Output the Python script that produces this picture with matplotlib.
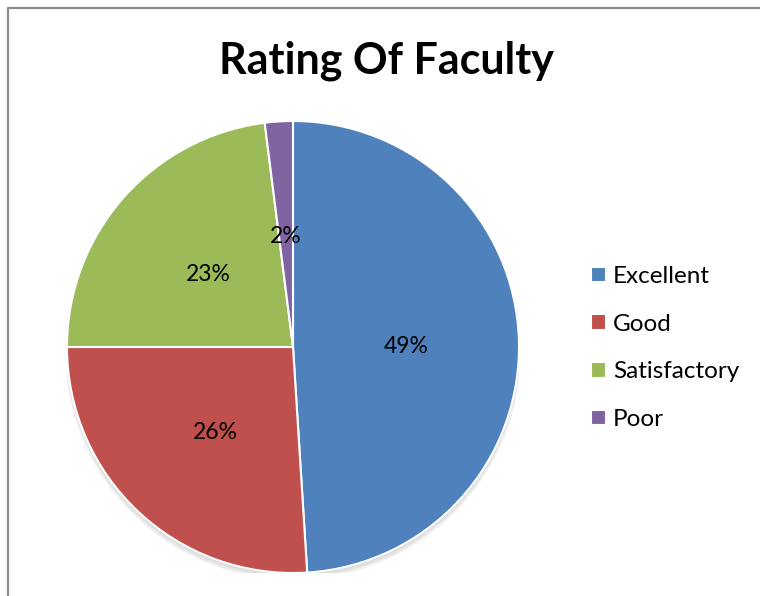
import matplotlib
matplotlib.use('Agg')
import matplotlib.pyplot as plt
from matplotlib.lines import Line2D
from matplotlib.patches import Circle

plt.rcParams['font.family'] = ['Lato', 'DejaVu Sans']

categories = ['Excellent', 'Good', 'Satisfactory', 'Poor']
shares = [49, 26, 23, 2]
colors = ['#4F81BD', '#C0504D', '#9BBB59', '#8064A2']

fig = plt.figure(figsize=(7.6, 5.96), dpi=100)
fig.patch.set_facecolor('white')

# chart border (only top and left visible in the crop)
W, H = 760, 596
fig.add_artist(Line2D([8 / W, 8 / W, 1], [0, 1 - 8 / H, 1 - 8 / H],
                      transform=fig.transFigure, color='#8c8c8c', lw=1.6))

fig.text(386 / W, 1 - 61 / H, 'Rating Of Faculty', ha='center', va='center',
         fontsize=31, fontweight='bold')

ax = fig.add_axes([67 / W, 1 - 573 / H, 452 / W, 452 / H])
# soft shadow under the pie
for i, a in enumerate([0.05, 0.05, 0.06]):
    ax.add_patch(Circle((0, -0.01 - 0.006 * i), 1.0 + 0.004 * i,
                        color='black', alpha=a, lw=0, zorder=0))

wedges, texts, autotexts = ax.pie(
    shares, colors=colors, startangle=90, counterclock=False,
    autopct='%1.0f%%', pctdistance=0.5,
    wedgeprops=dict(edgecolor='white', linewidth=1.5),
    textprops=dict(fontsize=16.5, color='black'))
for t in autotexts:
    t.set_y(t.get_position()[1] - 0.012)
ax.set_xlim(-1, 1)
ax.set_ylim(-1, 1)

fig.legend(wedges, categories, loc='center left',
           bbox_to_anchor=(591 / W, 1 - 348 / H), frameon=False,
           borderpad=0, borderaxespad=0,
           fontsize=17.5, handlelength=0.6, handleheight=0.6,
           handletextpad=0.3, labelspacing=1.1)

fig.savefig('out.png', dpi=100)
